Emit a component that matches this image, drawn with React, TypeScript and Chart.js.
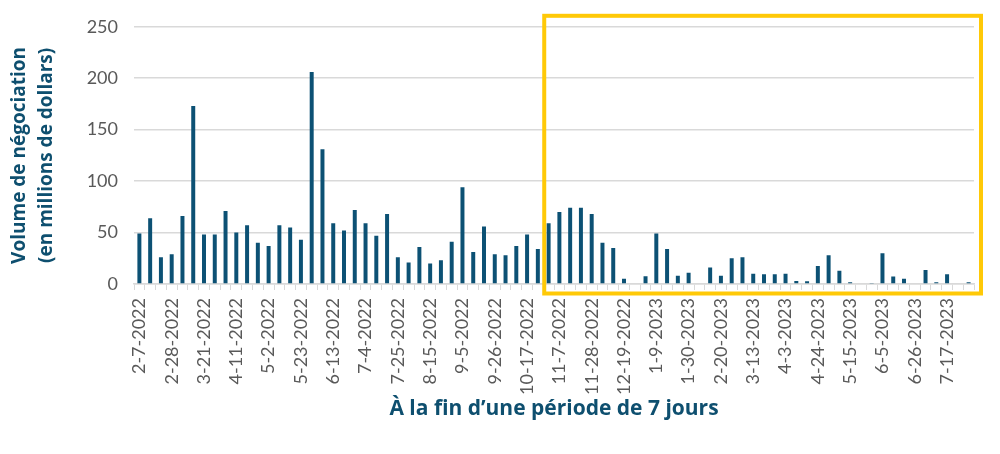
import { useEffect, useRef } from "react";
import { Chart, ChartConfiguration, Plugin, registerables } from "chart.js";
Chart.register(...registerables);

// weekly periods (end of each 7-day period)
const weeks = [
  "2-7-2022", "2-14-2022", "2-21-2022", "2-28-2022", "3-7-2022", "3-14-2022",
  "3-21-2022", "3-28-2022", "4-4-2022", "4-11-2022", "4-18-2022", "4-25-2022",
  "5-2-2022", "5-9-2022", "5-16-2022", "5-23-2022", "5-30-2022", "6-6-2022",
  "6-13-2022", "6-20-2022", "6-27-2022", "7-4-2022", "7-11-2022", "7-18-2022",
  "7-25-2022", "8-1-2022", "8-8-2022", "8-15-2022", "8-22-2022", "8-29-2022",
  "9-5-2022", "9-12-2022", "9-19-2022", "9-26-2022", "10-3-2022", "10-10-2022",
  "10-17-2022", "10-24-2022", "10-31-2022", "11-7-2022", "11-14-2022", "11-21-2022",
  "11-28-2022", "12-5-2022", "12-12-2022", "12-19-2022", "12-26-2022", "1-2-2023",
  "1-9-2023", "1-16-2023", "1-23-2023", "1-30-2023", "2-6-2023", "2-13-2023",
  "2-20-2023", "2-27-2023", "3-6-2023", "3-13-2023", "3-20-2023", "3-27-2023",
  "4-3-2023", "4-10-2023", "4-17-2023", "4-24-2023", "5-1-2023", "5-8-2023",
  "5-15-2023", "5-22-2023", "5-29-2023", "6-5-2023", "6-12-2023", "6-19-2023",
  "6-26-2023", "7-3-2023", "7-10-2023", "7-17-2023", "7-24-2023", "7-31-2023",
];

// labels actually printed on the x axis
const shownTicks = [
  "2-7-2022", "2-28-2022", "3-21-2022", "4-11-2022", "5-2-2022", "5-23-2022",
  "6-13-2022", "7-4-2022", "7-25-2022", "8-15-2022", "9-5-2022", "9-26-2022",
  "10-17-2022", "11-7-2022", "11-28-2022", "12-19-2022", "1-9-2023", "1-30-2023",
  "2-20-2023", "3-13-2023", "4-3-2023", "4-24-2023", "5-15-2023", "6-5-2023",
  "6-26-2023", "7-17-2023",
];

// trading volume, millions of dollars
const volume = [
  49, 64, 26, 29, 66, 173, 48, 48, 71, 50, 57, 40,
  37, 57, 55, 43, 206, 131, 59, 52, 72, 59, 47, 68,
  26, 21, 36, 20, 23, 41, 94, 31, 56, 29, 28, 37,
  48, 34, 59, 70, 74, 74, 68, 40, 35, 5, 0, 7.5,
  49, 34, 8, 11, 0, 16, 8, 25, 26, 10, 9.4, 9.4,
  10, 3, 2.6, 17.5, 28, 13, 1.6, 0, 1, 30, 7.4, 5,
  0, 13.6, 1.6, 9.4, 0, 1.6,
];

// first week inside the highlighted period
const highlightFrom = "10-31-2022";

const navy = "#0c5174";
const titleBlue = "#0e4f6f";
const tickGrey = "#595959";
const lineGrey = "#d9d9d9";

const highlightBox: Plugin<"bar"> = {
  id: "highlightBox",
  afterDraw(chart) {
    const { ctx, chartArea, scales } = chart;
    const idx = weeks.indexOf(highlightFrom);
    const left = scales.x.getPixelForValue(idx - 0.5) + 1;
    const top = chartArea.top - 11;
    const right = chartArea.right + 7;
    const bottom = chartArea.bottom + 9.5;
    ctx.save();
    ctx.strokeStyle = "#ffc907";
    ctx.lineWidth = 4;
    ctx.strokeRect(left, top, right - left, bottom - top);
    ctx.restore();
  },
};

const VolumeChart = () => {
  const ref = useRef<HTMLCanvasElement>(null);

  useEffect(() => {
    const config: ChartConfiguration<"bar"> = {
      type: "bar",
      data: {
        labels: weeks,
        datasets: [
          {
            label: "Volume",
            data: volume,
            backgroundColor: navy,
            borderWidth: 0,
            barPercentage: 0.37,
            categoryPercentage: 1,
          },
        ],
      },
      options: {
        animation: false,
        responsive: true,
        maintainAspectRatio: false,
        layout: { padding: { top: 25, right: 26, bottom: 0, left: 0 } },
        plugins: {
          legend: { display: false },
          tooltip: { enabled: false },
        },
        scales: {
          x: {
            grid: {
              drawOnChartArea: false,
              drawTicks: true,
              tickLength: 6,
              color: lineGrey,
              offset: true,
            },
            border: { display: true, color: lineGrey, width: 1.5 },
            ticks: {
              autoSkip: false,
              maxRotation: 90,
              minRotation: 90,
              padding: 8,
              color: tickGrey,
              font: { family: "Lato", size: 18 },
              callback: (_v, index) =>
                shownTicks.includes(weeks[index]) ? weeks[index] : "",
            },
            title: {
              display: true,
              text: "À la fin d’une période de 7 jours",
              color: titleBlue,
              font: { family: "Open Sans", size: 21, weight: "bold", lineHeight: 1.3 },
              padding: { top: 0, bottom: 31 },
            },
            afterFit: (scale) => {
              scale.height = 170;
            },
          },
          y: {
            min: 0,
            max: 250,
            grid: { color: lineGrey, drawTicks: false, lineWidth: 1.5 },
            border: { display: false },
            ticks: {
              stepSize: 50,
              padding: 16,
              color: tickGrey,
              font: { family: "Lato", size: 18 },
            },
            title: {
              display: true,
              text: ["Volume de négociation", "(en millions de dollars)"],
              color: titleBlue,
              font: { family: "Open Sans", size: 19, weight: "bold", lineHeight: 1.42 },
              padding: { top: 6.5, bottom: 0 },
            },
            afterFit: (scale) => {
              scale.width = 134;
            },
          },
        },
      },
      plugins: [highlightBox],
    };
    const chart = new Chart(ref.current!, config);
    return () => {
      chart.destroy();
    };
  }, []);

  return (
    <div
      style={{
        position: "absolute",
        left: 0,
        top: 0,
        width: 1000,
        height: 454,
        background: "#ffffff",
      }}
    >
      <canvas ref={ref}></canvas>
    </div>
  );
};

export default function App() {
  return <VolumeChart />;
}
